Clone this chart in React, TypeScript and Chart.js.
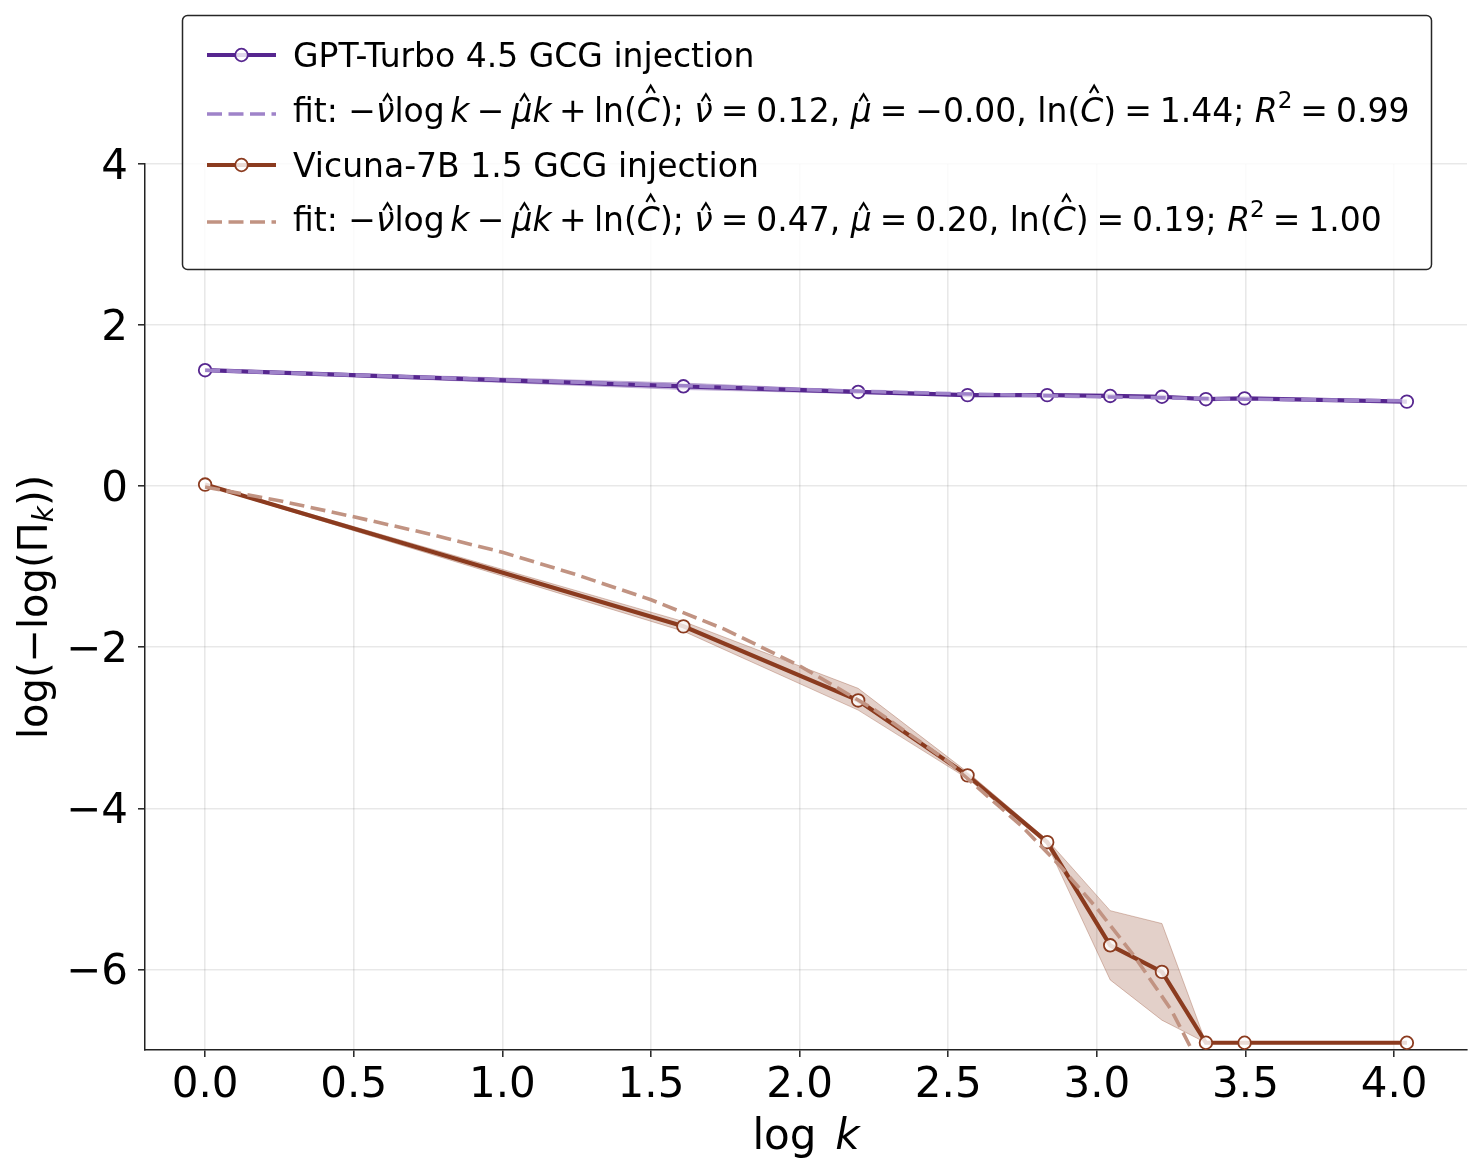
import React, { useEffect, useRef } from "react";
import { Chart, registerables } from "chart.js";

Chart.register(...registerables);

// ---------------- data ----------------
const LOG_K = [0, 1.609, 2.197, 2.565, 2.833, 3.045, 3.219, 3.367, 3.497, 4.043];

const GPT_MEAN = [1.44, 1.24, 1.17, 1.13, 1.13, 1.12, 1.11, 1.08, 1.09, 1.05];
const GPT_UPPER = [1.45, 1.28, 1.19, 1.14, 1.14, 1.13, 1.12, 1.09, 1.10, 1.06];
const GPT_LOWER = [1.43, 1.20, 1.15, 1.12, 1.12, 1.11, 1.10, 1.07, 1.08, 1.04];

const VIC_MEAN = [0.02, -1.74, -2.66, -3.59, -4.42, -5.70, -6.03, -6.91, -6.91, -6.91];
const VIC_UPPER = [0.03, -1.68, -2.51, -3.55, -4.39, -5.27, -5.43, -6.91, -6.91, -6.91];
const VIC_LOWER = [0.01, -1.80, -2.78, -3.63, -4.45, -6.13, -6.63, -6.91, -6.91, -6.91];

const GPT_FIT_X = [0, 0.5, 1.0, 1.5, 2.0, 2.5, 3.0, 3.5, 4.043];
const GPT_FIT_Y = [1.44, 1.38, 1.32, 1.26, 1.20, 1.15, 1.11, 1.08, 1.06];

const VIC_FIT_X = [0, 0.25, 0.5, 0.75, 1.0, 1.25, 1.5, 1.75, 2.0, 2.25, 2.5, 2.75, 2.875, 3.0, 3.125, 3.25, 3.32];
const VIC_FIT_Y = [-0.01, -0.18, -0.38, -0.59, -0.82, -1.10, -1.41, -1.78, -2.23, -2.77, -3.42, -4.23, -4.71, -5.24, -5.83, -6.50, -7.0];

const SERIES_NAMES = ["GPT-Turbo 4.5 GCG injection", "Vicuna-7B 1.5 GCG injection"];
// fit parameters shown in legend: nu, mu, ln C, R^2
const GPT_FIT_PARAMS = ["0.12", "−0.00", "1.44", "0.99"];
const VIC_FIT_PARAMS = ["0.47", "0.20", "0.19", "1.00"];

const X_TICKS = [0, 0.5, 1.0, 1.5, 2.0, 2.5, 3.0, 3.5, 4.0];
const Y_TICKS = [-6, -4, -2, 0, 2, 4];
const X_MIN = -0.2022;
const X_MAX = 4.2453;
const Y_MIN = -7;
const Y_MAX = 4;

// ---------------- styles ----------------
const GPT_COLOR = "#56268f";
const GPT_FIT_COLOR = "#9f83c9";
const GPT_BAND = "rgba(92,45,150,0.25)";
const VIC_COLOR = "#8b3b1f";
const VIC_FIT_COLOR = "#c19382";
const VIC_BAND = "rgba(139,58,30,0.24)";
const VIC_BAND_EDGE = "rgba(139,58,30,0.3)";
const GPT_BAND_EDGE = "rgba(92,45,150,0.3)";
const MARKER_FILL = "rgba(255,255,255,0.82)";
const FONT = '"DejaVu Sans"';
const DASH = [15, 6.5];
const LINE_W = 4.2;
const DASH_W = 3.6;
const MARKER_R = 6.3;

type Seg = { t?: string; it?: boolean; hat?: "lo" | "up"; sup?: boolean; sub?: boolean; sp?: number };

const BIN = 0.22;
const REL = 0.24;
const THIN = 0.17;

function fitSegs(p: string[]): Seg[] {
  return [
    { t: "fit: " },
    { t: "−" },
    { t: "ν", it: true, hat: "lo" },
    { t: "log" },
    { sp: THIN },
    { t: "k", it: true },
    { sp: BIN }, { t: "−" }, { sp: BIN },
    { t: "μ", it: true, hat: "lo" },
    { t: "k", it: true },
    { sp: BIN }, { t: "+" }, { sp: BIN },
    { t: "ln(" }, { t: "C", it: true, hat: "up" }, { t: ")" },
    { t: "; " },
    { t: "ν", it: true, hat: "lo" }, { sp: REL }, { t: "=" }, { sp: REL }, { t: p[0] }, { t: ", " },
    { t: "μ", it: true, hat: "lo" }, { sp: REL }, { t: "=" }, { sp: REL }, { t: p[1] }, { t: ", " },
    { t: "ln(" }, { t: "C", it: true, hat: "up" }, { t: ")" }, { sp: REL }, { t: "=" }, { sp: REL }, { t: p[2] }, { t: "; " },
    { t: "R", it: true }, { t: "2", sup: true }, { sp: REL }, { t: "=" }, { sp: REL }, { t: p[3] },
  ];
}

function segFont(s: Seg, size: number) {
  const sz = s.sup || s.sub ? size * 0.7 : size;
  return `${s.it ? "italic " : ""}${sz}px ${FONT}`;
}

function richWidth(ctx: CanvasRenderingContext2D, segs: Seg[], size: number) {
  let w = 0;
  for (const s of segs) {
    if (s.sp != null) { w += s.sp * size; continue; }
    ctx.font = segFont(s, size);
    w += ctx.measureText(s.t as string).width;
  }
  return w;
}

function drawRich(ctx: CanvasRenderingContext2D, segs: Seg[], x: number, y: number, size: number, color: string) {
  ctx.fillStyle = color;
  ctx.strokeStyle = color;
  ctx.textAlign = "left";
  ctx.textBaseline = "alphabetic";
  let cx = x;
  for (const s of segs) {
    if (s.sp != null) { cx += s.sp * size; continue; }
    ctx.font = segFont(s, size);
    const w = ctx.measureText(s.t as string).width;
    let dy = 0;
    if (s.sup) dy = -0.42 * size;
    if (s.sub) dy = 0.16 * size;
    ctx.fillText(s.t as string, cx, y + dy);
    if (s.hat) {
      const mid = cx + w / 2 + (s.it ? 0.07 * size : 0);
      const yb = y - (s.hat === "up" ? 0.88 : 0.63) * size;
      const yt = y - (s.hat === "up" ? 1.1 : 0.84) * size;
      const hw = 0.13 * size;
      ctx.beginPath();
      ctx.lineWidth = 0.065 * size;
      ctx.lineJoin = "miter";
      ctx.moveTo(mid - hw, yb);
      ctx.lineTo(mid, yt);
      ctx.lineTo(mid + hw, yb);
      ctx.stroke();
    }
    cx += w;
  }
  return cx - x;
}

const pts = (xs: number[], ys: number[]) => xs.map((x, i) => ({ x, y: ys[i] }));

const decorPlugin = {
  id: "decor",
  afterDraw(chart: any) {
    const ctx: CanvasRenderingContext2D = chart.ctx;
    const area = chart.chartArea;
    ctx.save();

    // x axis label
    const xl: Seg[] = [{ t: "log" }, { sp: 0.45 }, { t: "k", it: true }];
    const xs = 42;
    const xw = richWidth(ctx, xl, xs);
    drawRich(ctx, xl, (area.left + area.right) / 2 - xw / 2, 1149, xs, "#000");

    // y axis label
    const yl: Seg[] = [{ t: "log(−log(Π" }, { t: "k", it: true, sub: true }, { t: "))" }];
    const ys = 40;
    const yw = richWidth(ctx, yl, ys);
    ctx.save();
    ctx.translate(47, (area.top + area.bottom) / 2);
    ctx.rotate(-Math.PI / 2);
    drawRich(ctx, yl, -yw / 2, 0, ys, "#000");
    ctx.restore();

    // legend
    ctx.beginPath();
    ctx.roundRect(182.5, 15.5, 1249, 254, 5);
    ctx.fillStyle = "rgba(255,255,255,0.8)";
    ctx.fill();
    ctx.lineWidth = 1.5;
    ctx.strokeStyle = "rgba(0,0,0,0.85)";
    ctx.stroke();

    const ls = 33;
    const handleX0 = 207;
    const handleX1 = 276;
    const textX = 293;
    const rows = [
      { kind: "line", color: GPT_COLOR, hy: 55, by: 67, segs: [{ t: SERIES_NAMES[0] }] as Seg[] },
      { kind: "dash", color: GPT_FIT_COLOR, hy: 114, by: 122, segs: fitSegs(GPT_FIT_PARAMS) },
      { kind: "line", color: VIC_COLOR, hy: 165, by: 177, segs: [{ t: SERIES_NAMES[1] }] as Seg[] },
      { kind: "dash", color: VIC_FIT_COLOR, hy: 222, by: 231, segs: fitSegs(VIC_FIT_PARAMS) },
    ];
    for (const r of rows) {
      ctx.save();
      ctx.beginPath();
      ctx.strokeStyle = r.color;
      if (r.kind === "line") {
        ctx.lineWidth = LINE_W;
        ctx.setLineDash([]);
      } else {
        ctx.lineWidth = DASH_W;
        ctx.setLineDash(DASH);
      }
      ctx.moveTo(handleX0, r.hy);
      ctx.lineTo(handleX1, r.hy);
      ctx.stroke();
      ctx.setLineDash([]);
      if (r.kind === "line") {
        ctx.beginPath();
        ctx.arc((handleX0 + handleX1) / 2, r.hy, MARKER_R, 0, Math.PI * 2);
        ctx.fillStyle = MARKER_FILL;
        ctx.fill();
        ctx.lineWidth = 1.8;
        ctx.stroke();
      }
      ctx.restore();
      drawRich(ctx, r.segs, textX, r.by, ls, "#000");
    }
    ctx.restore();
  },
};

export default function App() {
  const ref = useRef<HTMLCanvasElement>(null);
  useEffect(() => {
    const canvas = ref.current as HTMLCanvasElement;
    const tickFont = { family: FONT, size: 42 };
    const chart = new Chart(canvas, {
      type: "line",
      data: {
        datasets: [
          { label: "gpt_fit", data: pts(GPT_FIT_X, GPT_FIT_Y), borderColor: GPT_FIT_COLOR, borderWidth: DASH_W, borderDash: DASH, pointRadius: 0, fill: false, order: 0 },
          { label: "vic_fit", data: pts(VIC_FIT_X, VIC_FIT_Y), borderColor: VIC_FIT_COLOR, borderWidth: DASH_W, borderDash: DASH, pointRadius: 0, fill: false, order: 0 },
          { label: SERIES_NAMES[0], data: pts(LOG_K, GPT_MEAN), borderColor: GPT_COLOR, borderWidth: LINE_W, pointRadius: MARKER_R, pointBorderWidth: 1.8, pointBackgroundColor: MARKER_FILL, pointBorderColor: GPT_COLOR, fill: false, order: 1, clip: 10 },
          { label: SERIES_NAMES[1], data: pts(LOG_K, VIC_MEAN), borderColor: VIC_COLOR, borderWidth: LINE_W, pointRadius: MARKER_R, pointBorderWidth: 1.8, pointBackgroundColor: MARKER_FILL, pointBorderColor: VIC_COLOR, fill: false, order: 1, clip: 10 },
          { label: "gpt_up", data: pts(LOG_K, GPT_UPPER), borderColor: GPT_BAND_EDGE, borderWidth: 1, pointRadius: 0, fill: false, order: 2 },
          { label: "gpt_lo", data: pts(LOG_K, GPT_LOWER), borderColor: GPT_BAND_EDGE, borderWidth: 1, pointRadius: 0, fill: "-1", backgroundColor: GPT_BAND, order: 2 },
          { label: "vic_up", data: pts(LOG_K, VIC_UPPER), borderColor: VIC_BAND_EDGE, borderWidth: 1, pointRadius: 0, fill: false, order: 2 },
          { label: "vic_lo", data: pts(LOG_K, VIC_LOWER), borderColor: VIC_BAND_EDGE, borderWidth: 1, pointRadius: 0, fill: "-1", backgroundColor: VIC_BAND, order: 2 },
        ] as any,
      },
      options: {
        responsive: false,
        animation: false,
        devicePixelRatio: 1,
        events: [],
        layout: { padding: { left: 0, top: 164, right: 16, bottom: 0 } },
        plugins: { legend: { display: false }, tooltip: { enabled: false }, title: { display: false } },
        scales: {
          x: {
            type: "linear",
            min: X_MIN,
            max: X_MAX,
            afterBuildTicks: (s: any) => { s.ticks = X_TICKS.map((v) => ({ value: v })); },
            afterFit: (s: any) => { s.height = 126; },
            ticks: { callback: (v: any) => Number(v).toFixed(1), font: tickFont, color: "#000", padding: 4, maxRotation: 0, autoSkip: false },
            grid: { color: "rgba(0,0,0,0.09)", lineWidth: 1.6, tickColor: "#222", tickLength: 7, tickWidth: 1.5 },
            border: { color: "#222", width: 1.5 },
          },
          y: {
            type: "linear",
            min: Y_MIN,
            max: Y_MAX,
            afterBuildTicks: (s: any) => { s.ticks = Y_TICKS.map((v) => ({ value: v })); },
            afterFit: (s: any) => { s.width = 145; },
            ticks: { callback: (v: any) => (Number(v) < 0 ? "−" + Math.abs(Number(v)) : String(v)), font: tickFont, color: "#000", padding: 10, labelOffset: 4, autoSkip: false },
            grid: { color: "rgba(0,0,0,0.09)", lineWidth: 1.6, tickColor: "#222", tickLength: 7, tickWidth: 1.5 },
            border: { color: "#222", width: 1.5 },
          },
        },
      } as any,
      plugins: [decorPlugin],
    });
    return () => chart.destroy();
  }, []);
  return (
    <canvas
      ref={ref}
      width={1483}
      height={1176}
      style={{ position: "absolute", left: 0, top: 0, width: 1483, height: 1176, display: "block" }}
    />
  );
}
